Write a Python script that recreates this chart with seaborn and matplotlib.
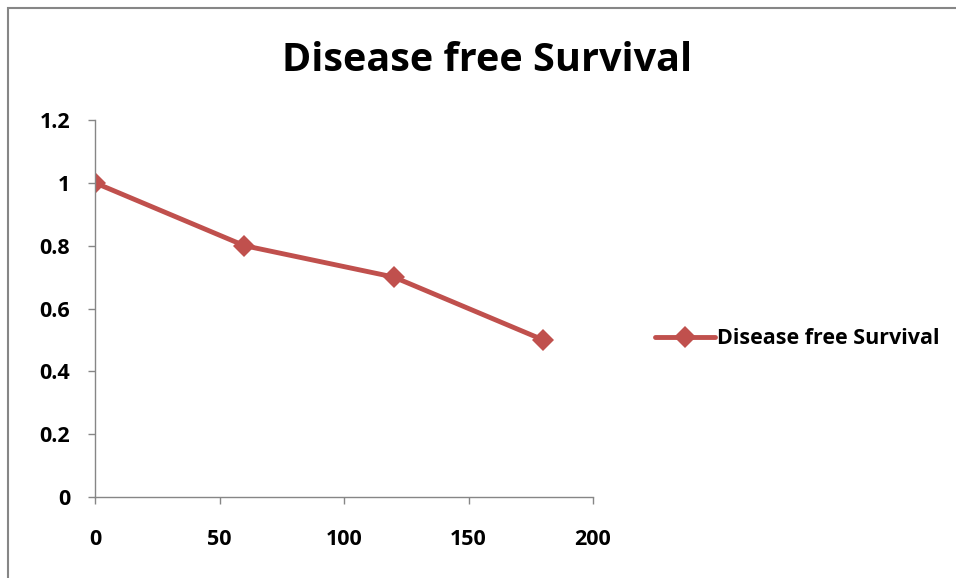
import pandas as pd
import numpy as np
import matplotlib.pyplot as plt
import seaborn as sns
from matplotlib.patches import Rectangle

# values
months = [0, 60, 120, 180]
survival = [1.0, 0.8, 0.7, 0.5]
series_name = 'Disease free Survival'

df = pd.DataFrame({'time': months, 'survival': survival})

sns.set_style('white')
plt.rcParams['font.family'] = ['Open Sans', 'DejaVu Sans']
plt.rcParams['font.weight'] = 'bold'
plt.rcParams['text.color'] = 'black'
plt.rcParams['xtick.color'] = 'black'
plt.rcParams['ytick.color'] = 'black'

fig = plt.figure(figsize=(9.56, 5.78), dpi=100)
ax = fig.add_axes([0.0994, 0.1401, 0.5209, 0.6523])

sns.lineplot(data=df, x='time', y='survival', ax=ax, color='#C0504D',
             linewidth=3.5, marker='D', markersize=11, markeredgewidth=0,
             label=series_name)

ax.set_xlim(0, 200)
ax.set_ylim(0, 1.2)
ax.set_xticks([0, 50, 100, 150, 200])
ax.set_yticks([0, 0.2, 0.4, 0.6, 0.8, 1, 1.2])
ax.set_yticklabels(['0', '0.2', '0.4', '0.6', '0.8', '1', '1.2'])
ax.set_xlabel('')
ax.set_ylabel('')

for side in ['top', 'right']:
    ax.spines[side].set_visible(False)
for side in ['left', 'bottom']:
    ax.spines[side].set_color('#868686')
    ax.spines[side].set_linewidth(1)
ax.tick_params(axis='both', direction='out', length=5, width=1, color='#868686',
               labelcolor='black', labelsize=15.5, bottom=True, left=True)
for lbl in ax.get_xticklabels() + ax.get_yticklabels():
    lbl.set_fontweight('bold')
ax.tick_params(axis='x', pad=18)
ax.tick_params(axis='y', pad=13)

fig.text(0.51, 0.895, 'Disease free Survival', ha='center', va='center',
         fontsize=28.5, fontweight='bold', color='black')

leg = ax.legend(loc='center left', bbox_to_anchor=(1.085, 0.42), frameon=False,
                prop={'weight': 'bold', 'size': 15.5}, handlelength=2.8,
                handletextpad=0.1)
for t in leg.get_texts():
    t.set_color('black')

# outer chart border
fig.patches.append(Rectangle((8 / 956, -0.05), 1.1, 1.05 - 8 / 578,
                             transform=fig.transFigure, fill=False,
                             edgecolor='#868686', linewidth=1.5))

fig.savefig('out.png', dpi=100)
